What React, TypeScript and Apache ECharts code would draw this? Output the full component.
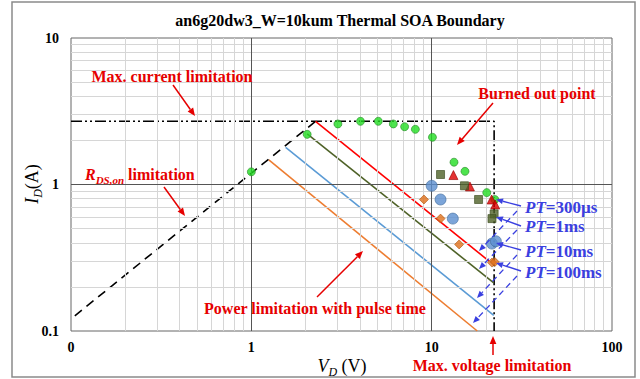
import React, { useEffect, useRef } from 'react';
import * as echarts from 'echarts';

const FONT = 'Liberation Serif, Times New Roman, serif';

// Axis ranges / ticks
const xMin = 0.1;
const xMax = 100;
const yMin = 0.1;
const yMax = 10;
const xMinorGrid = [0.2, 0.3, 0.4, 0.5, 0.6, 0.7, 0.8, 0.9, 2, 3, 4, 5, 6, 7, 8, 9, 20, 30, 40, 50, 60, 70, 80, 90];
const xMajorGrid = [1, 10];
const yMinorGrid = [0.2, 0.3, 0.4, 0.5, 0.6, 0.7, 0.8, 0.9, 2, 3, 4, 5, 6, 7, 8, 9];
const yMajorGrid = [1];

// Limits
const boundaryLine = [[0.1, 2.7], [22.2, 2.7], [22.2, 0.1]];
const rdsOnLine = [[0.105, 0.127], [2.27, 2.7]];

// Power limitation lines (pulse time)
const pt300usLine = [[2.27, 2.7], [20.8, 0.3]];
const pt1msLine = [[2.04, 2.22], [22.1, 0.213]];
const pt10msLine = [[1.55, 1.79], [22.1, 0.128]];
const pt100msLine = [[1.25, 1.47], [17.9, 0.1]];

// Burned out points
const greenPoints = [[1, 1.22], [2.04, 2.2], [3.02, 2.59], [4.03, 2.7], [5.06, 2.7], [6.13, 2.59], [7.08, 2.48], [8.12, 2.38], [10.1, 2.1], [13.3, 1.42], [15.3, 1.23], [20.2, 0.88], [22.4, 0.79]];
const redTriangles = [[13.2, 1.16], [16.3, 0.97], [21.5, 0.79], [22.5, 0.73]];
const oliveSquares = [[11.2, 1.17], [15.2, 0.98], [18.2, 0.79], [22.2, 0.63], [21.6, 0.585]];
const blueCircles = [[10.0, 0.98], [11.2, 0.79], [13.1, 0.585], [21.6, 0.395], [22.7, 0.41]];
const orangeDiamonds = [[9.06, 0.79], [11.2, 0.585], [14.2, 0.39], [21.6, 0.293], [22.4, 0.296]];

const ptLabels = ['300µs', '1ms', '10ms', '100ms'];

const RED = '#e60000';
const BLUE = '#3a40e0';

function arrow(x1: number, y1: number, x2: number, y2: number, color: string, width: number, dashed: boolean, head = 8): any[] {
  const a = Math.atan2(y2 - y1, x2 - x1);
  const bx = x2 - head * Math.cos(a);
  const by = y2 - head * Math.sin(a);
  const w = head * 0.42;
  return [
    {
      type: 'line',
      silent: true,
      shape: { x1, y1, x2: bx, y2: by },
      style: { stroke: color, lineWidth: width, lineDash: dashed ? [6, 4] : null },
      z: 20,
    },
    {
      type: 'polygon',
      silent: true,
      shape: {
        points: [
          [x2, y2],
          [bx + w * Math.sin(a), by - w * Math.cos(a)],
          [bx - w * Math.sin(a), by + w * Math.cos(a)],
        ],
      },
      style: { fill: color },
      z: 20,
    },
  ];
}

function redText(text: string, x: number, y: number, align = 'center'): any {
  return {
    type: 'text',
    x,
    y,
    silent: true,
    z: 20,
    style: {
      text,
      fill: RED,
      fontFamily: FONT,
      fontWeight: 'bold',
      fontSize: 16,
      textAlign: align,
      textVerticalAlign: 'middle',
    },
  };
}

export default function App() {
  const ref = useRef<HTMLDivElement>(null);

  useEffect(() => {
    if (!ref.current) return;
    const chart = echarts.init(ref.current, undefined, { renderer: 'svg' });

    const gridLineData = [
      ...xMinorGrid.map((v) => ({ xAxis: v, lineStyle: { color: '#d6d6d6', width: 1, type: 'solid' } })),
      ...yMinorGrid.map((v) => ({ yAxis: v, lineStyle: { color: '#d6d6d6', width: 1, type: 'solid' } })),
      ...xMajorGrid.map((v) => ({ xAxis: v, lineStyle: { color: '#555555', width: 1, type: 'solid' } })),
      ...yMajorGrid.map((v) => ({ yAxis: v, lineStyle: { color: '#555555', width: 1, type: 'solid' } })),
    ];

    const lineSeries = (name: string, data: number[][], color: string, type: any, width = 1.6) => ({
      name,
      type: 'line',
      data,
      symbol: 'none',
      showSymbol: false,
      z: 3,
      lineStyle: { color, width, type },
      silent: true,
    });

    const scatterSeries = (name: string, data: number[][], symbol: string, size: number, color: string, border: string) => ({
      name,
      type: 'scatter',
      data,
      symbol,
      symbolSize: size,
      z: 5,
      itemStyle: { color, borderColor: border, borderWidth: 0.8 },
      silent: true,
    });

    const subRich = (color: string, big: number, small: number, bold: boolean, pad: number) => ({
      i: { fontFamily: FONT, fontSize: big, fontStyle: 'italic', fontWeight: bold ? 'bold' : 'normal', fill: color, lineHeight: big + 2, verticalAlign: 'top' },
      s: { fontFamily: FONT, fontSize: small, fontStyle: 'italic', fontWeight: bold ? 'bold' : 'normal', fill: color, lineHeight: small, verticalAlign: 'top', padding: [pad, 0, 0, 0] },
      n: { fontFamily: FONT, fontSize: big, fontWeight: bold ? 'bold' : 'normal', fill: color, lineHeight: big + 2, verticalAlign: 'top' },
    });

    const graphic: any[] = [
      {
        type: 'rect',
        silent: true,
        shape: { x: 12, y: 2, width: 623, height: 375 },
        style: { fill: 'none', stroke: '#8a8a8a', lineWidth: 1.5 },
        z: 0,
      },
      {
        type: 'text',
        x: 340,
        y: 20,
        silent: true,
        style: {
          text: 'an6g20dw3_W=10kum Thermal SOA Boundary',
          fontFamily: FONT,
          fontWeight: 'bold',
          fontSize: 16,
          fill: '#000',
          textAlign: 'center',
          textVerticalAlign: 'middle',
        },
      },
      // axis titles
      {
        type: 'text',
        x: 342,
        y: 367,
        silent: true,
        style: {
          text: '{i|V}{s|D}{n| (V)}',
          textAlign: 'center',
          textVerticalAlign: 'middle',
          rich: subRich('#000', 18, 12, false, 9),
        },
      },
      {
        type: 'text',
        x: 33,
        y: 184,
        rotation: Math.PI / 2,
        silent: true,
        style: {
          text: '{i|I}{s|D}{n|(A)}',
          textAlign: 'center',
          textVerticalAlign: 'middle',
          rich: subRich('#000', 18, 12, false, 9),
        },
      },
      // red annotations
      redText('Max. current limitation', 172, 76),
      {
        type: 'text',
        x: 85,
        y: 175,
        silent: true,
        z: 20,
        style: {
          text: '{i|R}{s|DS,on}{n| limitation}',
          textAlign: 'left',
          textVerticalAlign: 'middle',
          rich: subRich(RED, 16, 11, true, 8),
        },
      },
      redText('Burned out point', 537, 93),
      redText('Power limitation with pulse time', 315, 308),
      redText('Max. voltage limitation', 492, 365),
      ...arrow(173, 85, 195, 116, RED, 1.5, false),
      ...arrow(164, 187, 185, 216, RED, 1.5, false),
      ...arrow(493, 103, 457, 145, RED, 1.5, false),
      ...arrow(317, 297, 363, 251, RED, 1.5, false),
      ...arrow(493, 355, 493, 336, RED, 1.5, false),
      // pulse time labels
      ...ptLabels.map((t, i) => ({
        type: 'text',
        x: 525,
        y: [207, 226, 251, 272][i],
        silent: true,
        z: 20,
        style: {
          text: `{i|PT}{n|=${t}}`,
          textAlign: 'left',
          textVerticalAlign: 'middle',
          rich: {
            i: { fontFamily: FONT, fontSize: 17, fontStyle: 'italic', fontWeight: 'bold', fill: BLUE },
            n: { fontFamily: FONT, fontSize: 17, fontWeight: 'bold', fill: BLUE },
          },
        },
      })),
      ...arrow(521, 206, 496, 199.5, BLUE, 1.4, false, 7),
      ...arrow(521, 226, 496, 217, BLUE, 1.4, false, 7),
      ...arrow(521, 250, 496, 243, BLUE, 1.4, false, 7),
      ...arrow(521, 271, 496, 263, BLUE, 1.4, false, 7),
      ...arrow(517, 211, 479, 251, BLUE, 1.3, true, 7),
      ...arrow(517, 230, 479, 269, BLUE, 1.3, true, 7),
      ...arrow(517, 255, 477, 298, BLUE, 1.3, true, 7),
      ...arrow(517, 276, 473, 323, BLUE, 1.3, true, 7),
    ];

    chart.setOption({
      animation: false,
      backgroundColor: '#ffffff',
      grid: { left: 71, right: 28, top: 38, bottom: 48, show: true, borderColor: '#666', borderWidth: 1, backgroundColor: 'transparent' },
      xAxis: {
        type: 'log',
        logBase: 10,
        min: xMin,
        max: xMax,
        axisLine: { show: false },
        axisTick: { show: false },
        splitLine: { show: false },
        axisLabel: {
          margin: 9,
          fontFamily: FONT,
          fontWeight: 'bold',
          fontSize: 14,
          color: '#000',
          formatter: (v: number) => (v < 1 ? '0' : String(Math.round(v))),
        },
      },
      yAxis: {
        type: 'log',
        logBase: 10,
        min: yMin,
        max: yMax,
        axisLine: { show: false },
        axisTick: { show: false },
        splitLine: { show: false },
        axisLabel: {
          margin: 12,
          fontFamily: FONT,
          fontWeight: 'bold',
          fontSize: 14,
          color: '#000',
          formatter: (v: number) => (v < 1 ? String(Number(v.toFixed(1))) : String(Math.round(v))),
        },
      },
      series: [
        {
          name: 'grid',
          type: 'line',
          data: [[1, 1]],
          symbol: 'none',
          showSymbol: false,
          lineStyle: { opacity: 0 },
          z: 1,
          silent: true,
          markLine: {
            silent: true,
            symbol: ['none', 'none'],
            label: { show: false },
            animation: false,
            data: gridLineData,
          },
        },
        lineSeries('limit', boundaryLine, '#000', [11, 3, 2, 3, 2, 3], 1.6),
        lineSeries('rds', rdsOnLine, '#000', [9, 6], 1.6),
        lineSeries('PT=300us', pt300usLine, '#ff0000', 'solid'),
        lineSeries('PT=1ms', pt1msLine, '#4f6228', 'solid'),
        lineSeries('PT=10ms', pt10msLine, '#5b9bd5', 'solid'),
        lineSeries('PT=100ms', pt100msLine, '#ed7d31', 'solid'),
        scatterSeries('green', greenPoints, 'circle', 8, '#22dd22', '#2b8a2b'),
        scatterSeries('red', redTriangles, 'triangle', 9, '#dd0000', '#990000'),
        scatterSeries('olive', oliveSquares, 'rect', 8, '#4f6228', '#3a4a1c'),
        scatterSeries('blue', blueCircles, 'circle', 11, '#5b8fcf', '#46709f'),
        scatterSeries('orange', orangeDiamonds, 'diamond', 9, '#e0701c', '#b0560f'),
      ],
      graphic,
    });

    return () => chart.dispose();
  }, []);

  return <div ref={ref} style={{ position: 'fixed', left: 0, top: 0, width: 640, height: 379 }} />;
}
